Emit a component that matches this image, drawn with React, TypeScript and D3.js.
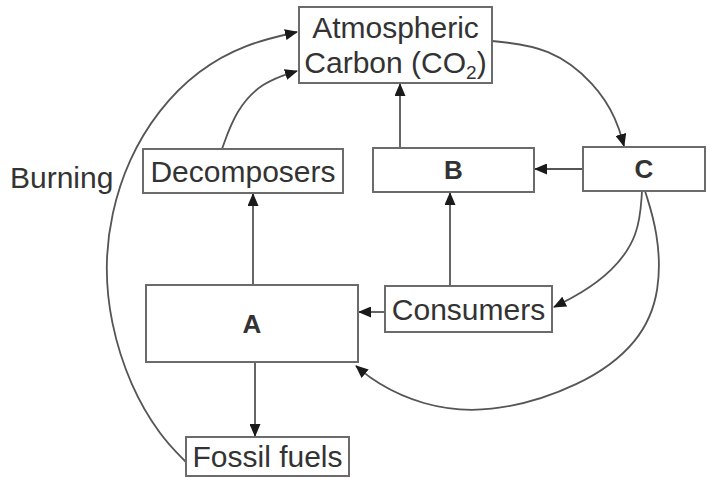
import React from 'react';
import * as d3 from 'd3';

// node labels and their boxes (x, y, width, height)
const nodeIds = ['atm', 'dec', 'B', 'C', 'A', 'con', 'fos'];
const nodeLines: string[][] = [
  ['Atmospheric', 'Carbon (CO|2|)'],
  ['Decomposers'],
  ['B'],
  ['C'],
  ['A'],
  ['Consumers'],
  ['Fossil fuels'],
];
const nodeBold = [false, false, true, true, true, false, false];
const boxes: [number, number, number, number][] = [
  [299, 7, 193, 76],
  [143, 149, 200, 44],
  [373, 148, 161, 44],
  [583, 147, 122, 44],
  [146, 285, 212, 77],
  [385, 286, 167, 46],
  [186, 437, 163, 39],
];

// straight arrows: [x1, y1, x2, y2]
const straightLinks: [number, number, number, number][] = [
  [583, 169, 535, 169],
  [400, 148, 400, 84],
  [253, 285, 253, 194],
  [450, 286, 450, 193],
  [385, 312, 359, 312],
  [255, 362, 255, 436],
];

// curved arrows, control points for a basis spline
const curvedLinks: [number, number][][] = [
  [[492, 41], [550, 47], [596, 84], [617, 120], [624, 146]],
  [[222, 149], [236, 110], [262, 82], [297, 71]],
  [[186, 462], [160, 436], [130, 386], [110, 322], [105, 265], [111, 214], [128, 160], [158, 110], [198, 70], [245, 44], [297, 32]],
  [[642, 191], [639, 236], [612, 272], [580, 294], [554, 307]],
  [[645, 191], [658, 232], [661, 290], [641, 342], [582, 387], [487, 415], [420, 405], [376, 383], [356, 366]],
];

const lineColor = '#555';
const textColor = '#333';
const font = '"Liberation Sans", Arial, sans-serif';

const App: React.FC = () => {
  const curve = d3
    .line<[number, number]>()
    .x((d) => d[0])
    .y((d) => d[1])
    .curve(d3.curveBasis);

  return (
    <svg
      width={709}
      height={478}
      style={{ position: 'absolute', left: 0, top: 0, background: '#fff' }}
      fontFamily={font}
    >
      <defs>
        <marker
          id="arrow"
          markerUnits="userSpaceOnUse"
          markerWidth={13}
          markerHeight={11}
          refX={12}
          refY={5.5}
          orient="auto"
        >
          <path d="M0,0 L13,5.5 L0,11 Z" fill="#1a1a1a" />
        </marker>
      </defs>

      {curvedLinks.map((pts, i) => (
        <path
          key={`c${i}`}
          d={curve(pts) || ''}
          fill="none"
          stroke={lineColor}
          strokeWidth={1.8}
          markerEnd="url(#arrow)"
        />
      ))}

      {straightLinks.map(([x1, y1, x2, y2], i) => (
        <line
          key={`s${i}`}
          x1={x1}
          y1={y1}
          x2={x2}
          y2={y2}
          stroke={lineColor}
          strokeWidth={1.8}
          markerEnd="url(#arrow)"
        />
      ))}

      {nodeIds.map((id, i) => {
        const [x, y, w, h] = boxes[i];
        const lines = nodeLines[i];
        const bold = nodeBold[i];
        const size = bold ? 26 : 30;
        const lh = 35;
        const cy = y + h / 2;
        const first = cy - ((lines.length - 1) * lh) / 2;
        return (
          <g key={id}>
            <rect x={x} y={y} width={w} height={h} fill="#fff" stroke="#6b6b6b" strokeWidth={2} />
            {lines.map((ln, j) => {
              const parts = ln.split('|');
              return (
                <text
                  key={j}
                  x={x + w / 2}
                  y={first + j * lh + size * 0.36}
                  textAnchor="middle"
                  fontSize={size}
                  fontWeight={bold ? 'bold' : 'normal'}
                  fill={textColor}
                >
                  {parts.length === 1 ? (
                    ln
                  ) : (
                    <>
                      <tspan>{parts[0]}</tspan>
                      <tspan fontSize={19} dy={6}>{parts[1]}</tspan>
                      <tspan dy={-6}>{parts[2]}</tspan>
                    </>
                  )}
                </text>
              );
            })}
          </g>
        );
      })}

      <text x={10} y={188} fontSize={30} fill={textColor}>
        Burning
      </text>
    </svg>
  );
};

export default App;
